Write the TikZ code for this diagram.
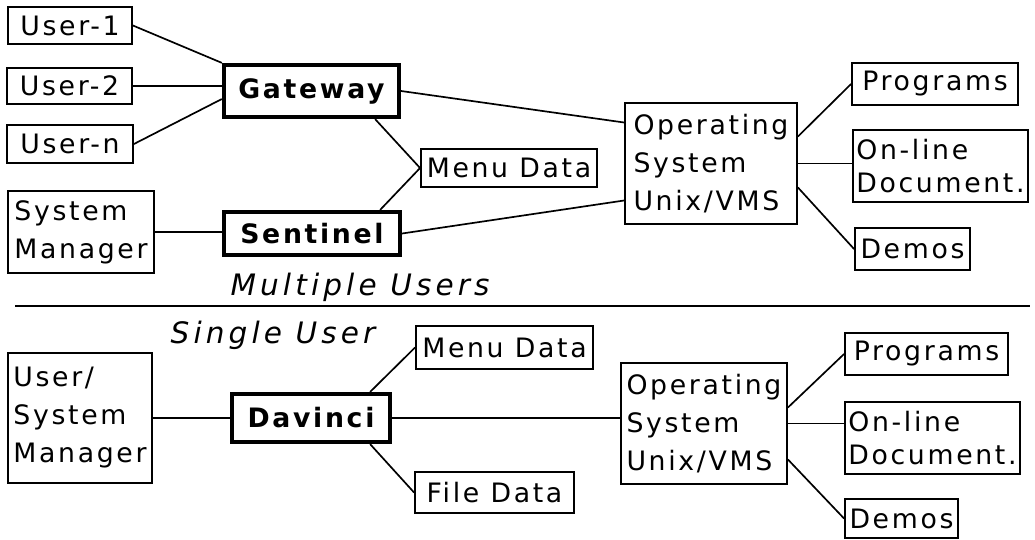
\documentclass[tikz,border=0pt]{standalone}
\usepackage{fontspec}
\setmainfont{DejaVu Sans}
\usetikzlibrary{calc}
\newfontfamily\plotfont[LetterSpace=10]{DejaVu Sans}
\newfontfamily\plotbold[LetterSpace=10]{DejaVu Sans Bold}
\newfontfamily\plotital[LetterSpace=14]{DejaVu Sans Oblique}
\begin{document}
\begin{tikzpicture}[x=0.025cm,y=-0.025cm,
  box/.style={draw, line width=1.3pt, inner sep=0pt, align=left,
    font=\plotfont\fontsize{19pt}{27pt}\selectfont},
  hub/.style={draw, line width=3pt, inner sep=0pt,
    font=\plotbold\fontsize{19pt}{27pt}\selectfont},
  tag/.style={inner sep=0pt, font=\plotital\fontsize{21pt}{25pt}\selectfont},
  link/.style={line width=1.2pt}]
\useasboundingbox (0,0) rectangle (1035,540);
% upper part
\node[box, minimum width=3.1cm, minimum height=0.925cm] (u1) at (70,25.5) {User-1};
\node[box, minimum width=3.125cm, minimum height=0.9cm] (u2) at (69.5,86) {User-2};
\node[box, minimum width=3.15cm, minimum height=0.95cm] (un) at (70,144) {User-n};
\node[box, minimum width=3.65cm, minimum height=2.05cm] (sm) at (81,232) {System\\Manager};
\node[hub, minimum width=4.375cm, minimum height=1.3cm] (gw) at (311.5,91) {Gateway};
\node[hub, minimum width=4.4cm, minimum height=1.075cm] (se) at (312,233.5) {Sentinel};
\node[box, minimum width=4.4cm, minimum height=0.95cm] (md1) at (509,168) {Menu Data};
\node[box, minimum width=4.3cm, minimum height=3.025cm] (os1) at (711,163.5) {Operating\\System\\Unix/VMS};
\node[box, minimum width=4.15cm, minimum height=1.05cm] (pr1) at (935,84) {Programs};
\node[box, minimum width=4.375cm, minimum height=1.8cm,
  font=\plotfont\fontsize{19pt}{24pt}\selectfont] (od1) at (940.5,166) {On-line\\Document.};
\node[box, minimum width=2.875cm, minimum height=1.05cm] (de1) at (912.5,249) {Demos};
\draw[link] (u1.east) -- (gw.north west);
\draw[link] (u2.east) -- (u2.east -| gw.west);
\draw[link] (un.east) -- ($(gw.west)+(0,8)$);
\draw[link] (sm.east) -- (sm.east -| se.west);
\draw[link] ($(gw.south east)+(-26,0)$) -- (md1.west);
\draw[link] ($(se.north east)+(-22,0)$) -- (md1.west);
\draw[link] (gw.east) -- ($(os1.west)+(0,-41)$);
\draw[link] (se.east) -- ($(os1.west)+(0,37)$);
\draw[link] ($(os1.east)+(0,-27)$) -- (pr1.west);
\draw[link] (os1.east) -- (os1.east -| od1.west);
\draw[link] ($(os1.east)+(0,24)$) -- (de1.west);
% labels and separator
\node[tag] (mu) at (360,287) {Multiple Users};
\coordinate (sepL) at (15,306);
\coordinate (sepR) at (1030,306);
\draw[line width=1.4pt] (sepL) -- (sepR);
\node[tag] (su) at (273,335) {Single User};
% lower part
\node[box, minimum width=3.6cm, minimum height=3.25cm] (usm) at (80,418) {User/\\System\\Manager};
\node[hub, minimum width=3.95cm, minimum height=1.2cm] (dv) at (311,418) {Davinci};
\node[box, minimum width=4.425cm, minimum height=1.075cm] (md2) at (504.5,347.5) {Menu Data};
\node[box, minimum width=3.975cm, minimum height=1.025cm] (fd) at (494.5,492.5) {File Data};
\node[box, minimum width=4.15cm, minimum height=3.025cm] (os2) at (704,423.5) {Operating\\System\\Unix/VMS};
\node[box, minimum width=4.075cm, minimum height=1.05cm] (pr2) at (926.5,354) {Programs};
\node[box, minimum width=4.375cm, minimum height=1.8cm,
  font=\plotfont\fontsize{19pt}{24pt}\selectfont] (od2) at (932.5,438) {On-line\\Document.};
\node[box, minimum width=2.825cm, minimum height=0.975cm] (de2) at (901.5,518.5) {Demos};
\draw[link] (usm.east) -- (usm.east -| dv.west);
\draw[link] ($(dv.north east)+(-22,0)$) -- (md2.west);
\draw[link] ($(dv.south east)+(-22,0)$) -- (fd.west);
\draw[link] (dv.east) -- (dv.east -| os2.west);
\draw[link] ($(os2.east)+(0,-16)$) -- (pr2.west);
\draw[link] (os2.east) -- (os2.east -| od2.west);
\draw[link] ($(os2.east)+(0,36)$) -- (de2.west);
\end{tikzpicture}
\end{document}
